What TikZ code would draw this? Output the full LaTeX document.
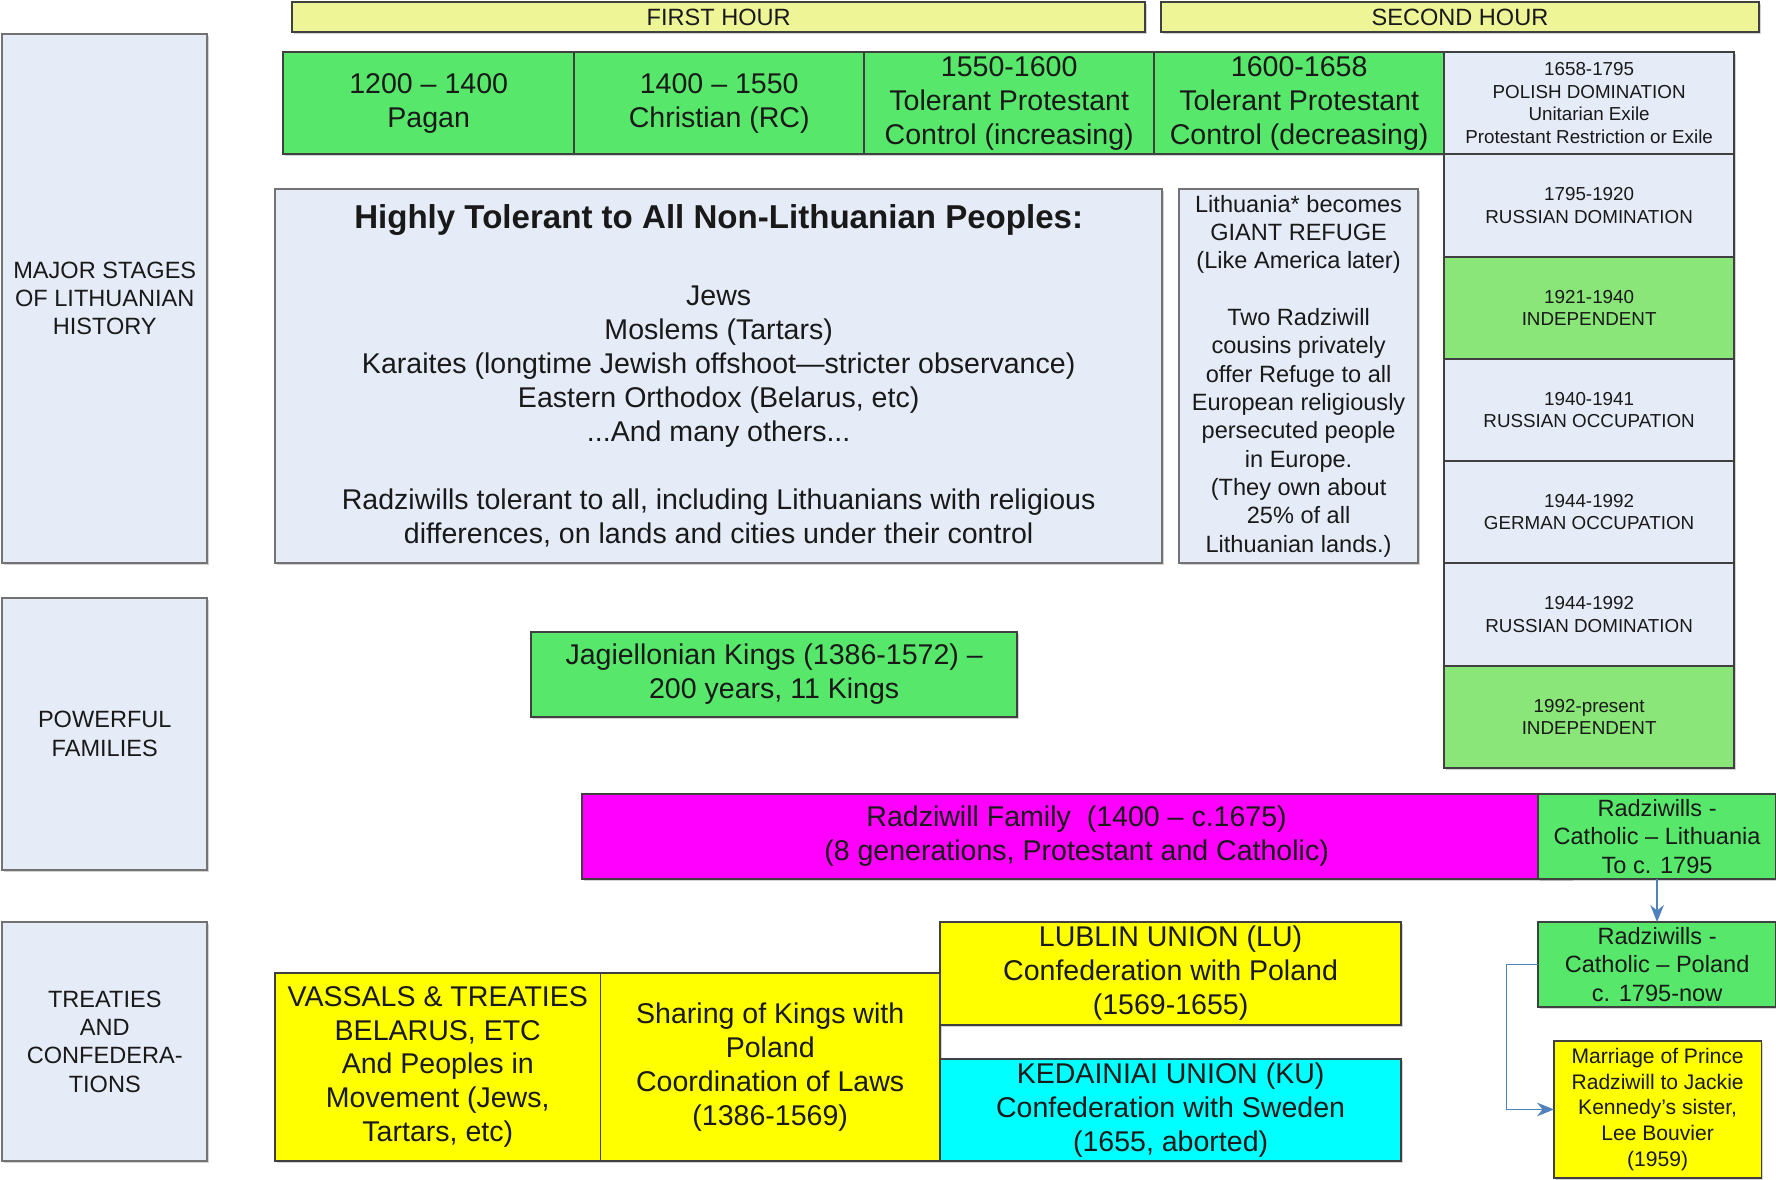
\documentclass[tikz,border=0pt]{standalone}
\usepackage{fontspec}
\setmainfont{Liberation Sans}
\usetikzlibrary{shadows,arrows.meta}
\definecolor{lblue}{RGB}{230,236,247}
\definecolor{grn}{RGB}{87,232,107}
\definecolor{lgrn}{RGB}{138,230,120}
\definecolor{ybar}{RGB}{238,245,150}
\definecolor{yel}{RGB}{255,255,0}
\definecolor{mag}{RGB}{255,0,255}
\definecolor{cyn}{RGB}{0,255,255}
\definecolor{conn}{RGB}{79,129,189}
\definecolor{txt}{RGB}{25,25,25}
\newcommand\bx[7]{%
  \pgfmathsetmacro\bxw{(#5-#3)*0.5}%
  \pgfmathsetmacro\bxh{(#6-#4)*0.5}%
  \node[#2, minimum width=\bxw pt, minimum height=\bxh pt] (#1) at ({(#3+#5)/2},{(#4+#6)/2}) {#7};%
}
\tikzset{
  box/.style={draw=black!75, line width=0.7pt, inner sep=0pt, outer sep=0pt, align=center, text=txt,
    drop shadow={opacity=0.35, shadow xshift=0.7pt, shadow yshift=-0.9pt}},
  big/.style={font=\fontsize{12.6}{15}\selectfont},
  mid/.style={font=\fontsize{10.4}{12.5}\selectfont},
  sml/.style={font=\fontsize{8.3}{10}\selectfont},
  lbbox/.style={box, fill=lblue, draw=black!55},
  grbox/.style={box, fill=grn},
  lgbox/.style={box, fill=lgrn},
  hourbar/.style={box, fill=ybar, mid},
  ybox/.style={box, fill=yel, big},
  conline/.style={draw=conn, line width=0.8pt, -{Stealth[length=7.5pt,width=6pt]}},
}
\begin{document}
\begin{tikzpicture}[x=0.5pt,y=-0.5pt]
\useasboundingbox (0,0) rectangle (1568,1041);
% hour bars
\bx{h1}{hourbar}{258}{2}{1011}{28}{FIRST HOUR}
\bx{h2}{hourbar}{1025}{2}{1553}{28}{SECOND HOUR}
% left labels
\bx{lab1}{lbbox,mid}{2}{30}{183}{497}{MAJOR STAGES\\OF LITHUANIAN\\HISTORY}
\bx{lab2}{lbbox,mid}{2}{528}{183}{768}{POWERFUL\\FAMILIES}
\bx{lab3}{lbbox,mid}{2}{814}{183}{1025}{TREATIES\\AND\\CONFEDERA-\\TIONS}
% period row
\bx{p1}{grbox,big}{250}{46}{507}{136}{1200 -- 1400\\Pagan}
\bx{p2}{grbox,big}{507}{46}{763}{136}{1400 -- 1550\\Christian (RC)}
\bx{p3}{grbox,big}{763}{46}{1019}{136}{1550-1600\\Tolerant Protestant\\Control (increasing)}
\bx{p4}{grbox,big}{1019}{46}{1275}{136}{1600-1658\\Tolerant Protestant\\Control (decreasing)}
% right column
\bx{r1}{lbbox,sml,draw=black!75}{1275}{46}{1531}{136}{1658-1795\\POLISH DOMINATION\\Unitarian Exile\\Protestant Restriction or Exile}
\bx{r2}{lbbox,sml,draw=black!75}{1275}{136}{1531}{227}{1795-1920\\RUSSIAN DOMINATION}
\bx{r3}{lgbox,sml}{1275}{227}{1531}{317}{1921-1940\\INDEPENDENT}
\bx{r4}{lbbox,sml,draw=black!75}{1275}{317}{1531}{407}{1940-1941\\RUSSIAN OCCUPATION}
\bx{r5}{lbbox,sml,draw=black!75}{1275}{407}{1531}{497}{1944-1992\\GERMAN OCCUPATION}
\bx{r6}{lbbox,sml,draw=black!75}{1275}{497}{1531}{588}{1944-1992\\RUSSIAN DOMINATION}
\bx{r7}{lgbox,sml}{1275}{588}{1531}{678}{1992-present\\INDEPENDENT}
% tolerant box
\bx{tol}{lbbox,big}{243}{167}{1026}{497}{{\fontsize{14.6}{15}\selectfont\bfseries Highly Tolerant to All Non-Lithuanian Peoples:}\\[19pt]
Jews\\Moslems (Tartars)\\Karaites (longtime Jewish offshoot---stricter observance)\\Eastern Orthodox (Belarus, etc)\\...And many others...\\[15pt]
Radziwills tolerant to all, including Lithuanians with religious\\differences, on lands and cities under their control}
% refuge box
\bx{ref}{lbbox,mid}{1041}{167}{1252}{497}{Lithuania* becomes\\GIANT REFUGE\\(Like America later)\\[12.5pt]
Two Radziwill\\cousins privately\\offer Refuge to all\\European religiously\\persecuted people\\in Europe.\\(They own about\\25\% of all\\Lithuanian lands.)}
% families
\bx{jag}{grbox,big}{469}{558}{898}{633}{Jagiellonian Kings (1386-1572) --\\200 years, 11 Kings}
\bx{rad}{box,fill=mag,big}{514}{701}{1387}{776}{Radziwill Family~~(1400 -- c.1675)\\(8 generations, Protestant and Catholic)}
\bx{lit}{grbox,mid}{1358}{701}{1568}{776}{Radziwills -\\Catholic -- Lithuania\\To c. 1795}
\bx{pol}{grbox,mid}{1358}{814}{1568}{889}{Radziwills -\\Catholic -- Poland\\c. 1795-now}
\bx{mar}{box,fill=yel,font=\fontsize{9.3}{11.4}\selectfont}{1372}{919}{1555}{1040}{Marriage of Prince\\Radziwill to Jackie\\Kennedy's sister,\\Lee Bouvier\\(1959)}
% treaties
\bx{vas}{ybox}{243}{859}{530}{1025}{VASSALS \& TREATIES\\BELARUS, ETC\\And Peoples in\\Movement (Jews,\\Tartars, etc)}
\bx{sha}{ybox}{530}{859}{830}{1025}{Sharing of Kings with\\Poland\\Coordination of Laws\\(1386-1569)}
\bx{lub}{ybox}{830}{814}{1237}{905}{LUBLIN UNION (LU)\\Confederation with Poland\\(1569-1655)}
\bx{ked}{box,fill=cyn,big}{830}{935}{1237}{1025}{KEDAINIAI UNION (KU)\\Confederation with Sweden\\(1655, aborted)}
% connectors
\draw[conline] (lit.south) -- (pol.north);
\draw[conline] (pol.west) -- ++(-28,0) |- (mar.west);
\end{tikzpicture}
\end{document}
